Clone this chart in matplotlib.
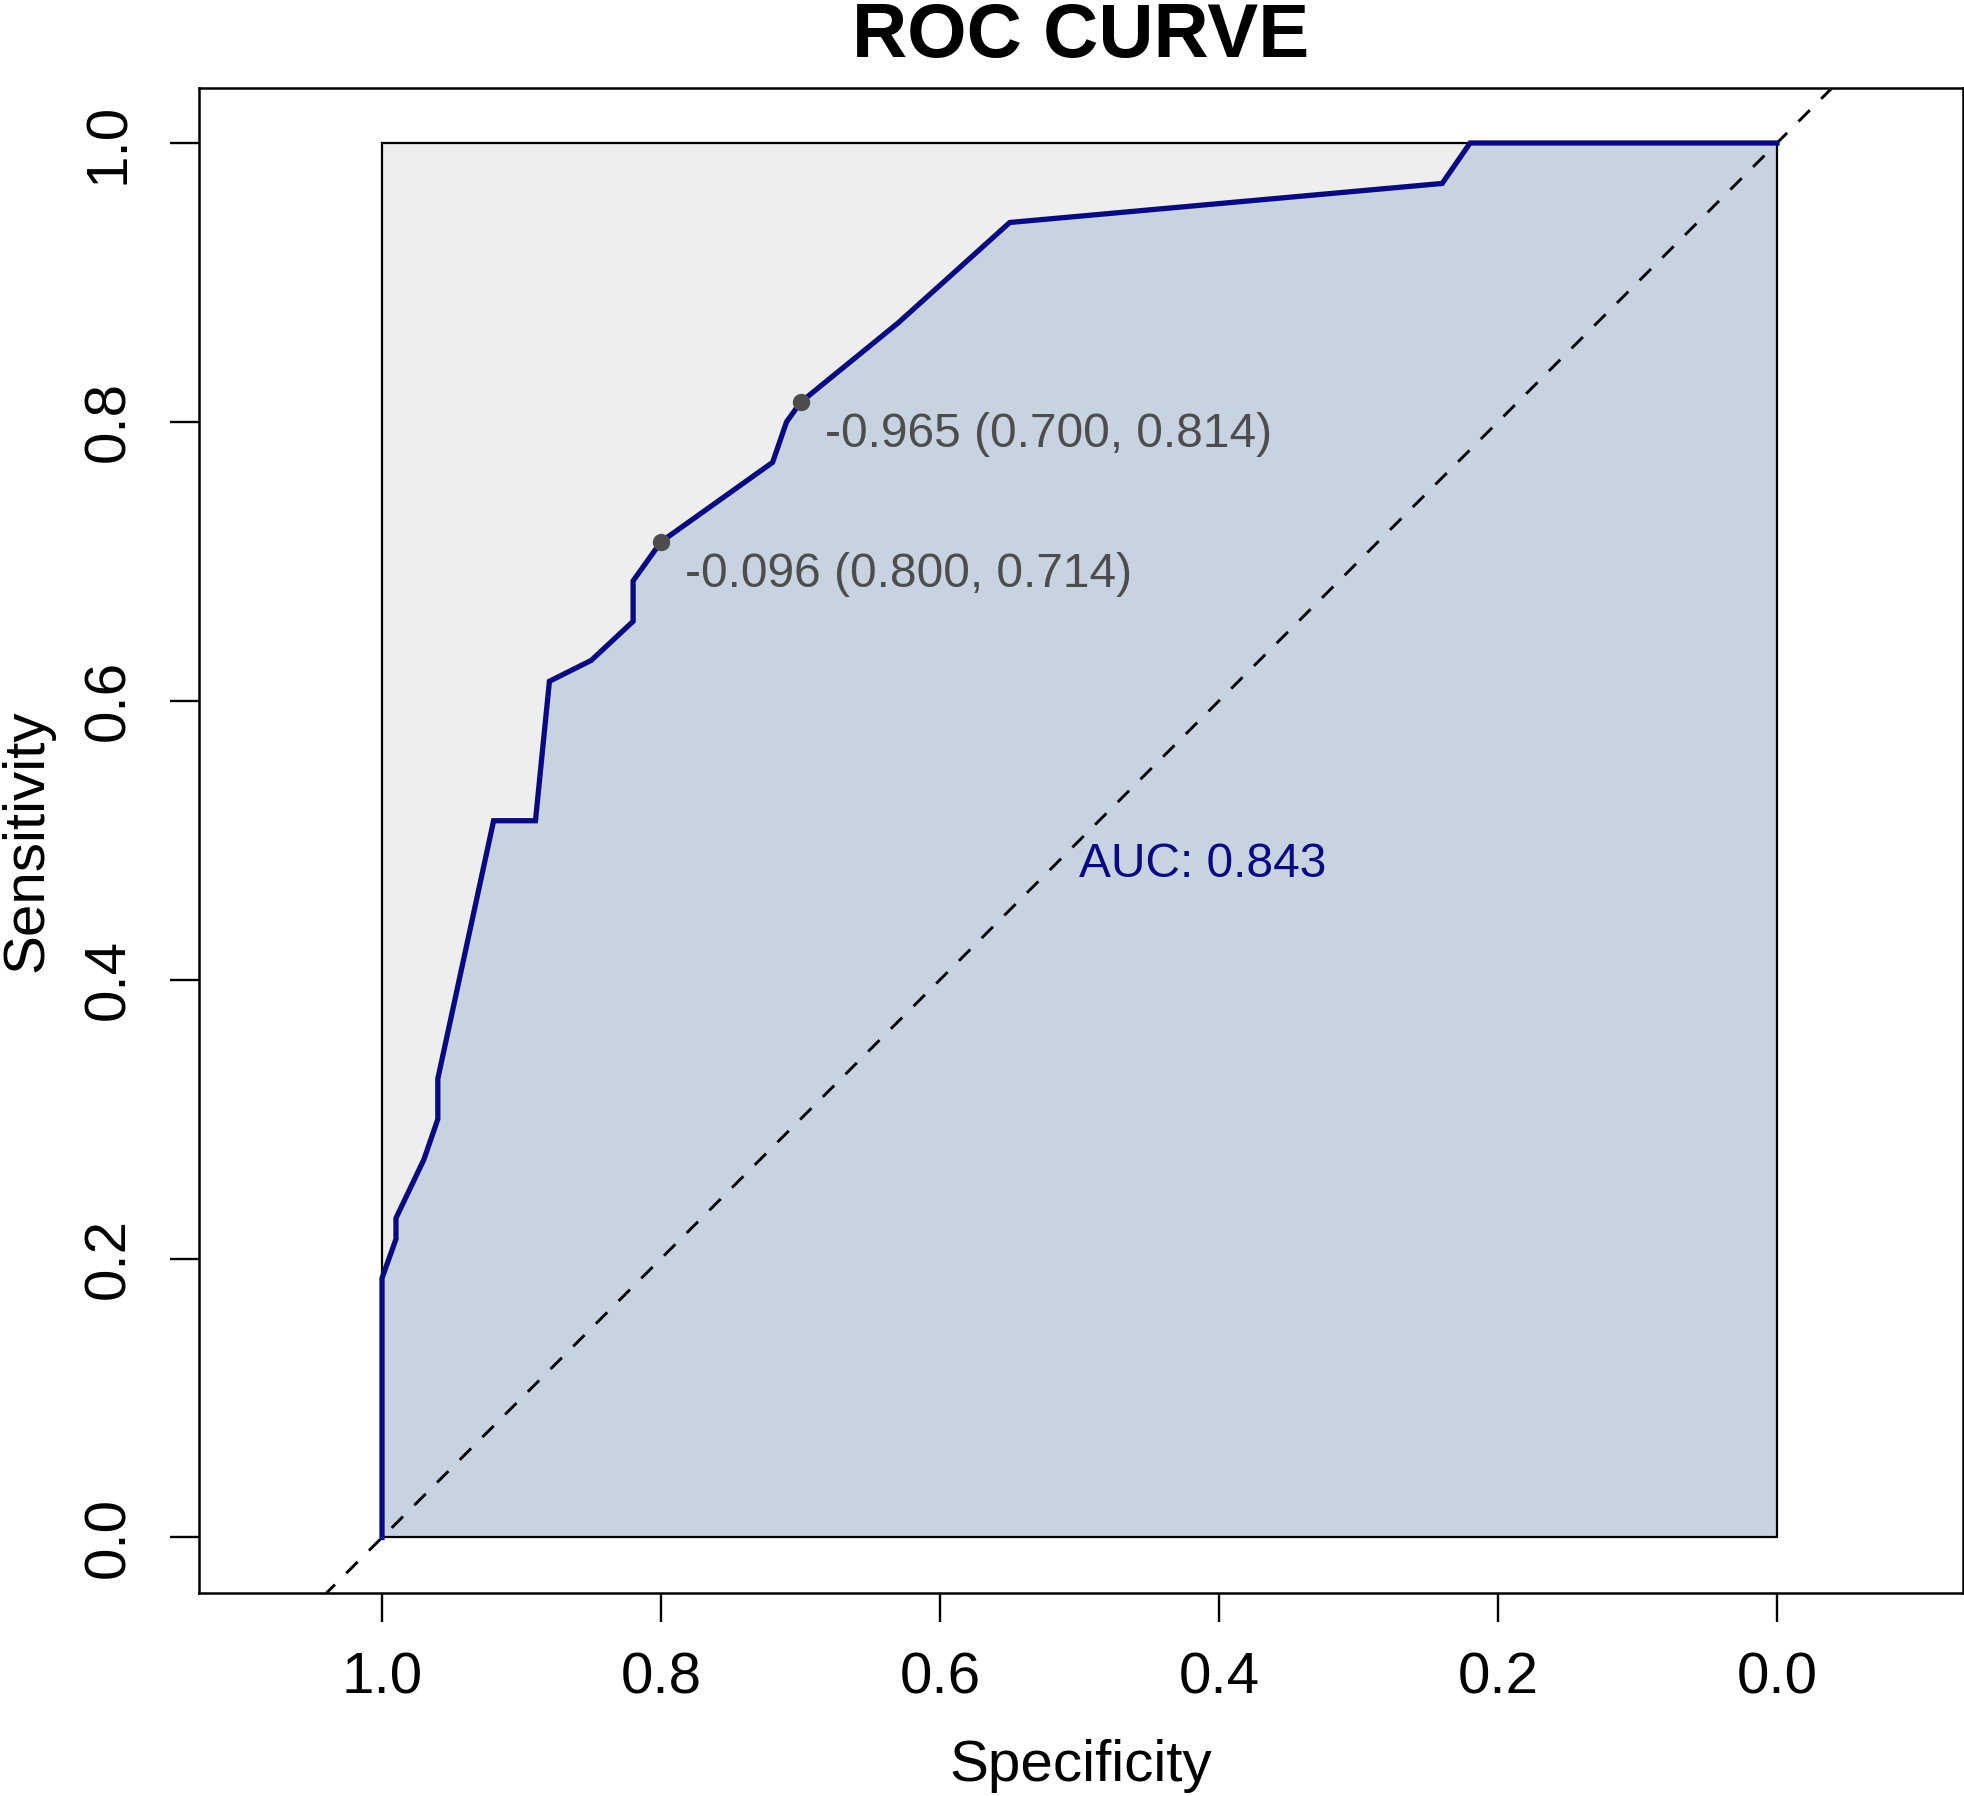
from matplotlib import pyplot as plt
import matplotlib.patches as mpatches

plt.rcParams["font.family"] = ["Liberation Sans", "DejaVu Sans"]

# ROC points (specificity descending)
specificity = [1.00, 1.00, 0.99, 0.99, 0.97, 0.96, 0.96, 0.92, 0.89, 0.88, 0.85,
               0.82, 0.82, 0.80, 0.72, 0.71, 0.70, 0.63, 0.55, 0.24, 0.22, 0.00]
sensitivity = [0.000, 0.186, 0.214, 0.229, 0.271, 0.300, 0.329, 0.514, 0.514, 0.614, 0.629,
               0.657, 0.686, 0.714, 0.771, 0.800, 0.814, 0.871, 0.943, 0.971, 1.000, 1.000]

# printed thresholds
thresholds = [-0.965, -0.096]
thres_spec = [0.700, 0.800]
thres_sens = [0.814, 0.714]

auc = 0.843
ticks = [1.0, 0.8, 0.6, 0.4, 0.2, 0.0]
tick_labels = ["1.0", "0.8", "0.6", "0.4", "0.2", "0.0"]

CURVE = "#0a0a80"
FILL = "#c7d3e1"
GREY = "#eeeeee"
TEXT_GREY = "#4d4d4d"

fig = plt.figure(figsize=(19.65, 17.96), dpi=100)
ax = fig.add_axes([199 / 1965, 1 - 1593 / 1796, (1963 - 199) / 1965, (1593 - 87.5) / 1796])

# max auc square
ax.add_patch(mpatches.Rectangle((0, 0), 1, 1, facecolor=GREY, edgecolor="none", zorder=1))
# auc polygon
poly_x = specificity + [0.0]
poly_y = sensitivity + [0.0]
ax.fill(poly_x, poly_y, color=FILL, lw=0, zorder=2)
ax.add_patch(mpatches.Rectangle((0, 0), 1, 1, facecolor="none", edgecolor="black", lw=1.6, zorder=3))

# chance line
ax.axline((1, 0), (0, 1), color="black", lw=2.1, dashes=(5.5, 5.5), zorder=4)

ax.plot(specificity, sensitivity, color=CURVE, lw=3.8, solid_joinstyle="miter", zorder=5)

for t, sp, se in zip(thresholds, thres_spec, thres_sens):
    ax.plot(sp, se, "o", color=TEXT_GREY, ms=11.5, zorder=6)
    ax.annotate(f"{t:.3f} ({sp:.3f}, {se:.3f})", (sp, se), xytext=(24, -45),
                textcoords="offset pixels", ha="left", va="baseline",
                fontsize=34.5, color=TEXT_GREY, zorder=7)

ax.text(0.5, 0.474, f"AUC: {auc:.3f}", ha="left", va="baseline", fontsize=34.5, color=CURVE, zorder=7)

ax.set_xlim(1 + 183 / 1394.8, -186 / 1394.8)
ax.set_ylim(-0.0398, 1.0398)

ax.set_xticks(ticks)
ax.set_xticklabels(tick_labels)
ax.set_yticks(ticks)
ax.set_yticklabels(tick_labels)
ax.tick_params(axis="both", direction="out", length=21, width=1.7, labelsize=42)
ax.tick_params(axis="x", pad=21)
ax.tick_params(axis="y", pad=24)
for lab in ax.get_yticklabels():
    lab.set_rotation(90)
    lab.set_va("center")
    lab.set_ha("right")

for s in ax.spines.values():
    s.set_linewidth(1.8)

ax.set_xlabel("Specificity", fontsize=42, labelpad=24)
ax.set_ylabel("Sensitivity", fontsize=42, labelpad=20)
fig.text(1081 / 1965, 1 - 57 / 1796, "ROC CURVE", ha="center", va="baseline",
         fontsize=55, fontweight="bold")

fig.savefig("out.png", dpi=100)
